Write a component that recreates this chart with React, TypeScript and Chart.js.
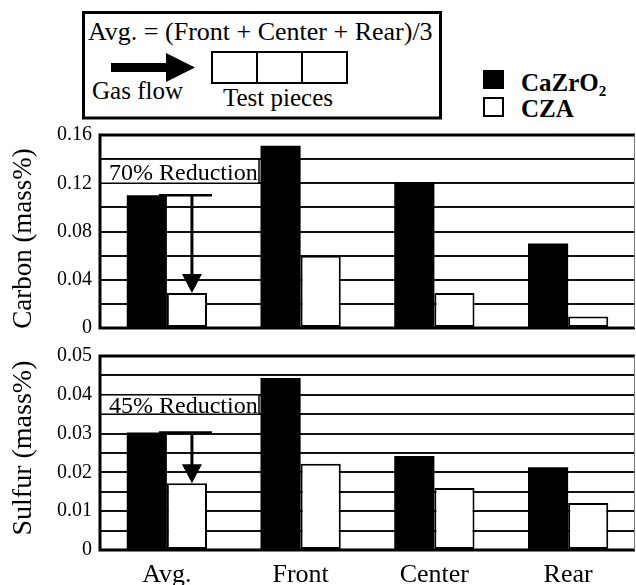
import React, { useEffect, useRef } from 'react';
import { Chart, registerables } from 'chart.js';

Chart.register(...registerables);

// Sample positions along the furnace and the two setter materials
const categories = ['Avg.', 'Front', 'Center', 'Rear'];
const seriesNames = ['CaZrO2', 'CZA'];

// Residual carbon (mass%)
const carbonCaZrO2 = [0.11, 0.151, 0.121, 0.07];
const carbonCZA = [0.029, 0.06, 0.029, 0.0095];
const carbonTickLabels = ['0', '0.04', '0.08', '0.12', '0.16'];

// Residual sulfur (mass%)
const sulfurCaZrO2 = [0.0303, 0.0443, 0.0242, 0.0213];
const sulfurCZA = [0.0172, 0.0222, 0.016, 0.0121];
const sulfurTickLabels = ['0', '0.01', '0.02', '0.03', '0.04', '0.05'];

const SERIF = '"Liberation Serif", "Times New Roman", serif';

// Frame around the plot area: heavy top/left/bottom, thin right edge
const framePlugin = {
  id: 'frame',
  afterDraw(chart: any) {
    const { ctx, chartArea: a } = chart;
    ctx.save();
    ctx.strokeStyle = '#000';
    ctx.lineWidth = 3;
    ctx.beginPath();
    ctx.moveTo(a.right, a.top);
    ctx.lineTo(a.left, a.top);
    ctx.lineTo(a.left, a.bottom);
    ctx.lineTo(a.right, a.bottom);
    ctx.stroke();
    ctx.strokeStyle = '#777';
    ctx.lineWidth = 1;
    ctx.beginPath();
    ctx.moveTo(a.right - 0.5, a.top);
    ctx.lineTo(a.right - 0.5, a.bottom);
    ctx.stroke();
    ctx.restore();
  },
};

// Rotated y-axis title, placed beside the plot area
const axisTitlePlugin = {
  id: 'axisTitle',
  afterDraw(chart: any, _args: any, opts: any) {
    const { ctx, chartArea: a } = chart;
    ctx.save();
    ctx.fillStyle = '#000';
    ctx.font = `${opts.size}px ${SERIF}`;
    ctx.textAlign = 'center';
    ctx.textBaseline = 'middle';
    ctx.translate(a.left - 76, (a.top + a.bottom) / 2 + opts.shift);
    ctx.rotate(-Math.PI / 2);
    ctx.fillText(opts.text, 0, 0);
    ctx.restore();
  },
};

// Reduction label and the arrow from the CaZrO2 average down to the CZA average
const reductionPlugin = {
  id: 'reduction',
  afterDatasetsDraw(chart: any, _args: any, opts: any) {
    const { ctx, chartArea: a, scales } = chart;
    const y = scales.y;
    const yTop = y.getPixelForValue(opts.boxTop);
    const yBot = y.getPixelForValue(opts.boxBottom);
    const boxRight = a.left + 159;
    ctx.save();
    ctx.fillStyle = '#fff';
    ctx.fillRect(a.left, yTop, boxRight - a.left, yBot - yTop);
    ctx.strokeStyle = '#000';
    ctx.lineWidth = 1.5;
    ctx.strokeRect(a.left, yTop, boxRight - a.left, yBot - yTop);
    ctx.fillStyle = '#000';
    ctx.font = `24px ${SERIF}`;
    ctx.textBaseline = 'alphabetic';
    ctx.textAlign = 'left';
    ctx.fillText(opts.text, a.left + 9, yBot - opts.baselineLift);

    const hi: any = chart.getDatasetMeta(0).data[0];
    const lo: any = chart.getDatasetMeta(1).data[0];
    const ax = lo.x + 5;
    const head = 19;
    ctx.lineWidth = 2.5;
    ctx.beginPath();
    ctx.moveTo(hi.x + hi.width / 2 - 8, hi.y);
    ctx.lineTo(lo.x + lo.width / 2 + 5, hi.y);
    ctx.stroke();
    ctx.lineWidth = 3;
    ctx.beginPath();
    ctx.moveTo(ax, hi.y);
    ctx.lineTo(ax, lo.y - head + 1);
    ctx.stroke();
    ctx.beginPath();
    ctx.moveTo(ax - 10, lo.y - head);
    ctx.lineTo(ax + 10, lo.y - head);
    ctx.lineTo(ax, lo.y);
    ctx.closePath();
    ctx.fill();
    ctx.restore();
  },
};

function labelFor(labels: string[]) {
  return (value: number) => {
    const hit = labels.find((l) => Math.abs(Number(l) - value) < 1e-9);
    return hit === undefined ? '' : hit;
  };
}

function makeConfig(p: {
  a: number[];
  b: number[];
  max: number;
  step: number;
  labels: string[];
  title: any;
  showX: boolean;
  note: any;
}): any {
  return {
    type: 'bar',
    data: {
      labels: categories,
      datasets: [
        { label: seriesNames[0], data: p.a, backgroundColor: '#000', borderWidth: 0 },
        {
          label: seriesNames[1],
          data: p.b,
          backgroundColor: '#fff',
          borderColor: '#000',
          borderWidth: 2,
          borderSkipped: false,
        },
      ],
    },
    plugins: [framePlugin, reductionPlugin, axisTitlePlugin],
    options: {
      responsive: false,
      maintainAspectRatio: false,
      animation: false,
      // the y ticks reserve 20px above and below the plot area on their own
      layout: { padding: { top: 0, right: 1, bottom: 0, left: 0 } },
      datasets: { bar: { categoryPercentage: 0.6, barPercentage: 1 } },
      plugins: {
        legend: { display: false },
        tooltip: { enabled: false },
        reduction: p.note,
        axisTitle: p.title,
      },
      scales: {
        x: {
          display: p.showX,
          grid: { display: false },
          border: { display: false },
          ticks: { color: '#000', font: { family: SERIF, size: 26 }, padding: 2 },
          afterFit: (s: any) => {
            if (p.showX) s.height = 35;
          },
        },
        y: {
          min: 0,
          max: p.max,
          border: { display: false },
          grid: { color: '#111', lineWidth: 2, drawTicks: false },
          ticks: {
            stepSize: p.step,
            autoSkip: false,
            color: '#000',
            padding: 8,
            font: { family: SERIF, size: 20 },
            callback: labelFor(p.labels),
          },
          title: { display: false },
          afterFit: (s: any) => {
            s.width = 100;
          },
        },
      },
    },
  };
}

function BarPanel(props: { top: number; height: number; config: any }) {
  const ref = useRef<HTMLCanvasElement>(null);
  useEffect(() => {
    const chart = new Chart(ref.current as HTMLCanvasElement, props.config);
    return () => chart.destroy();
  }, []);
  return (
    <canvas
      ref={ref}
      width={636}
      height={props.height}
      style={{ position: 'absolute', left: 0, top: props.top, width: 636, height: props.height }}
    />
  );
}

function Header() {
  const t = { fontFamily: SERIF, fill: '#000' } as const;
  return (
    <svg width={636} height={125} style={{ position: 'absolute', left: 0, top: 0 }}>
      <rect x={83.5} y={12.5} width={357} height={105.5} fill="#fff" stroke="#000" strokeWidth={3} />
      <text x={88} y={40} fontSize={26} {...t}>
        Avg. = (Front + Center + Rear)/3
      </text>
      <rect x={111} y={63} width={57} height={9} fill="#000" />
      <polygon points="166,53 195,67.5 166,82" fill="#000" />
      <rect x={212} y={52} width={135} height={31} fill="#fff" stroke="#000" strokeWidth={2} />
      <line x1={257} y1={52} x2={257} y2={83} stroke="#000" strokeWidth={2} />
      <line x1={302} y1={52} x2={302} y2={83} stroke="#000" strokeWidth={2} />
      <text x={92} y={99} fontSize={25} {...t}>
        Gas flow
      </text>
      <text x={223} y={106} fontSize={25} {...t}>
        Test pieces
      </text>

      <rect x={483} y={70} width={21} height={19} fill="#000" />
      <text x={521} y={91} fontSize={25} fontWeight="bold" {...t}>
        CaZrO<tspan fontSize={15} dy={5}>2</tspan>
      </text>
      <rect x={484} y={98} width={19} height={18} fill="#fff" stroke="#000" strokeWidth={2} />
      <text x={521} y={117} fontSize={25} fontWeight="bold" {...t}>
        {seriesNames[1]}
      </text>
    </svg>
  );
}

export default function App() {
  const carbonConfig = makeConfig({
    a: carbonCaZrO2,
    b: carbonCZA,
    max: 0.16,
    step: 0.02,
    labels: carbonTickLabels,
    title: { text: 'Carbon (mass%)', size: 27, shift: 7 },
    showX: false,
    note: { text: '70% Reduction', boxTop: 0.14, boxBottom: 0.12, baselineLift: 3 },
  });
  const sulfurConfig = makeConfig({
    a: sulfurCaZrO2,
    b: sulfurCZA,
    max: 0.05,
    step: 0.005,
    labels: sulfurTickLabels,
    title: { text: 'Sulfur (mass%)', size: 28, shift: -5 },
    showX: true,
    note: { text: '45% Reduction', boxTop: 0.04, boxBottom: 0.035, baselineLift: 1.5 },
  });
  return (
    <div style={{ position: 'absolute', left: 0, top: 0, width: 636, height: 585, background: '#fff' }}>
      <Header />
      <BarPanel top={115} height={233} config={carbonConfig} />
      <BarPanel top={336} height={249} config={sulfurConfig} />
    </div>
  );
}
